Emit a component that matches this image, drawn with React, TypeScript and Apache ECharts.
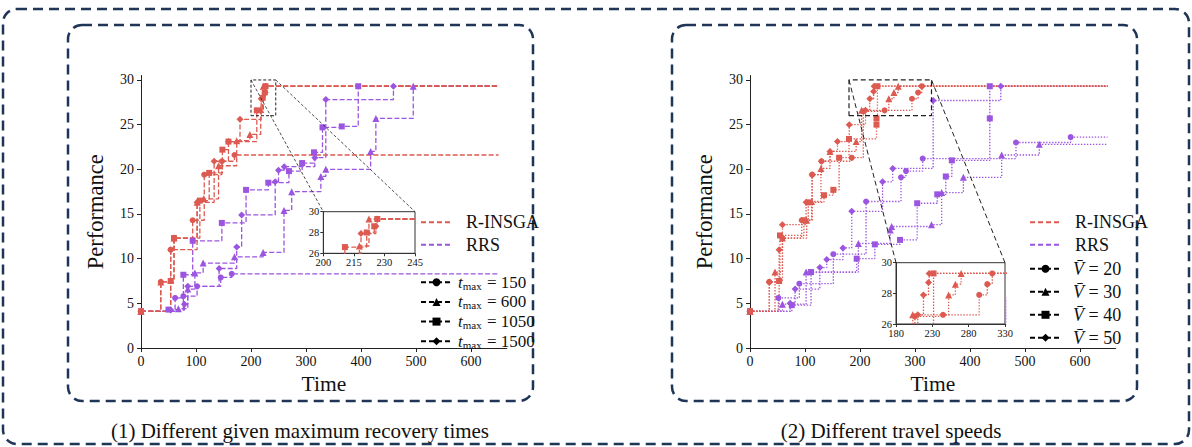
import React, { useEffect, useRef } from "react";
import * as echarts from "echarts";

const FONT = "Liberation Serif";
const RED = "#dc5a50";
const PURPLE = "#9b55e0";
const NAVY = "#1f3558";

const X_TICKS = [0, 100, 200, 300, 400, 500, 600];
const Y_TICKS = [0, 5, 10, 15, 20, 25, 30];
const L_INSET_X_TICKS = [200, 215, 230, 245];
const R_INSET_X_TICKS = [180, 230, 280, 330];
const INSET_Y_TICKS = [26, 28, 30];

// zoom windows [xmin, xmax], [ymin, ymax]
const L_ZOOM_X = [200, 245];
const R_ZOOM_X = [180, 330];
const ZOOM_Y = [26, 30];

// (1) R-INSGA, t_max = 150 / 600 / 1050 / 1500
const L_RED_150 = [[0, 4.1], [36, 7.4], [54, 11.0], [60, 12.3], [94, 14.3], [115, 19.4], [147, 20.9], [170, 21.6], [650, 21.6]];
const L_RED_600 = [[0, 4.1], [36, 7.4], [54, 7.6], [60, 12.3], [102, 16.3], [114, 16.7], [141, 20.4], [174, 23.2], [198, 23.9], [217.7, 26.7], [222.4, 29.3], [650, 29.3]];
const L_RED_1050 = [[0, 4.1], [54, 7.5], [60, 12.3], [107, 16.5], [124, 19.6], [148, 22.2], [159, 23.1], [210.6, 26.6], [221.3, 28.0], [225, 28.6], [226.5, 29.3], [650, 29.3]];
const L_RED_1500 = [[0, 4.1], [54, 11.0], [102, 16.3], [133, 20.9], [159, 23.1], [180, 25.6], [218.5, 27.9], [225.8, 28.6], [226.5, 29.3], [650, 29.3]];
// (1) RRS
const L_PUR_150 = [[0, 4.1], [62, 5.6], [77, 5.8], [102, 6.9], [145, 7.9], [165, 8.3], [650, 8.3]];
const L_PUR_600 = [[0, 4.1], [68, 4.4], [85, 6.6], [98, 8.4], [113, 9.5], [170, 10.2], [222, 10.7], [260, 15.4], [274, 17.5], [327, 19.2], [336, 20.0], [417.5, 22.0], [427, 25.7], [495, 29.3], [650, 29.3]];
const L_PUR_1050 = [[0, 4.1], [50, 4.3], [77, 8.2], [94, 12.0], [147, 14.0], [191, 17.7], [231.5, 18.5], [269, 19.8], [293, 20.7], [314.5, 21.9], [330, 24.7], [365, 24.8], [395, 29.3], [650, 29.3]];
const L_PUR_1500 = [[0, 4.1], [54, 4.25], [79, 4.9], [85, 6.9], [142, 8.9], [174, 11.3], [183, 14.9], [244, 18.6], [250, 19.9], [260.5, 20.3], [316, 21.3], [336, 27.8], [459, 29.3], [650, 29.3]];

// (2) R-INSGA, V = 20 / 30 / 40 / 50
const R_RED_20 = [[0, 4.1], [35, 7.4], [53, 7.5], [59, 12.3], [94, 14.3], [113, 19.4], [130, 20.9], [185, 21.3], [206, 26.5], [244.7, 26.6], [294.5, 27.9], [305.6, 28.6], [312.5, 29.3], [650, 29.3]];
const R_RED_30 = [[0, 4.1], [45.5, 8.5], [59, 12.3], [103, 14.3], [112, 16.4], [129, 20.1], [145.5, 22.0], [193, 23.1], [203, 26.6], [252.4, 27.9], [261.7, 28.6], [269.6, 29.3], [650, 29.3]];
const R_RED_40 = [[0, 4.1], [53, 7.5], [54.5, 12.6], [98, 14.3], [106, 16.3], [134.5, 17.1], [151.5, 17.7], [162, 21.3], [180, 23.4], [230, 25.0], [230, 25.7], [231.7, 29.3], [650, 29.3]];
const R_RED_50 = [[0, 4.1], [35, 7.4], [53, 11.0], [59, 13.8], [102, 16.3], [113, 19.4], [130, 20.9], [145.5, 22.0], [159, 23.1], [180.5, 25.0], [210, 26.6], [217.8, 27.9], [224.7, 28.7], [225.7, 29.3], [650, 29.3]];
// (2) RRS
const R_PUR_20 = [[0, 4.1], [51.5, 5.6], [89.7, 7.2], [151.5, 10.5], [211, 16.4], [274.5, 19.1], [283.6, 19.8], [314, 21.2], [483.6, 23.0], [583, 23.6], [650, 23.6]];
const R_PUR_30 = [[0, 4.1], [59, 4.9], [102, 8.5], [197, 11.7], [255, 13.2], [257.5, 13.6], [330, 13.8], [348.5, 17.4], [388, 19.1], [457.6, 21.6], [526, 22.8], [650, 22.8]];
const R_PUR_40 = [[0, 4.1], [76, 4.8], [111, 8.5], [194, 10.0], [227, 11.6], [272.7, 12.1], [304, 16.2], [340.5, 17.2], [356, 19.2], [367, 21.0], [436, 25.7], [436, 29.3], [650, 29.3]];
const R_PUR_50 = [[0, 4.1], [73, 5.0], [82, 6.6], [127, 9.0], [139.5, 9.9], [169, 11.2], [185, 15.3], [241, 18.6], [259.5, 20.1], [333, 27.7], [456, 29.3], [650, 29.3]];

const SYMBOLS = ["circle", "triangle", "rect", "diamond"];
const LEFT_LEGEND = ["t150", "t600", "t1050", "t1500"];
const LEFT_LEGEND_VALUES = ["150", "600", "1050", "1500"];
const RIGHT_LEGEND = ["V20", "V30", "V40", "V50"];
const RIGHT_LEGEND_VALUES = ["20", "30", "40", "50"];

function stepSeries(id: string, data: number[][], color: string, symbol: string, dash: any, ai: number) {
  return {
    type: "line",
    id,
    name: id,
    xAxisIndex: ai,
    yAxisIndex: ai,
    step: "end",
    data: data.map((p, i) => (i === data.length - 1 ? { value: p, symbol: "none" } : p)),
    symbol,
    symbolSize: symbol === "triangle" ? 7 : symbol === "diamond" ? 7 : 6,
    lineStyle: { color, width: 1.3, type: dash },
    itemStyle: { color },
    clip: true,
    silent: true,
    z: 3,
  };
}

function mainX(gi: number) {
  return {
    type: "value", gridIndex: gi, min: 0, max: 665,
    axisLine: { show: true, lineStyle: { color: "#222", width: 1 } },
    axisTick: { show: true, length: 4, customValues: X_TICKS, lineStyle: { color: "#222" } },
    axisLabel: { customValues: X_TICKS, fontSize: 14, fontFamily: FONT, color: "#111", margin: 6 },
    splitLine: { show: false },
    name: "Time", nameLocation: "middle", nameGap: 23,
    nameTextStyle: { fontSize: 21.5, fontFamily: FONT, color: "#111" },
  };
}
function mainY(gi: number) {
  return {
    type: "value", gridIndex: gi, min: 0, max: 30.5,
    axisLine: { show: true, lineStyle: { color: "#222", width: 1 } },
    axisTick: { show: true, length: 4, customValues: Y_TICKS, lineStyle: { color: "#222" } },
    axisLabel: { customValues: Y_TICKS, fontSize: 14, fontFamily: FONT, color: "#111", margin: 7 },
    splitLine: { show: false },
    name: "Performance", nameLocation: "middle", nameGap: 34,
    nameTextStyle: { fontSize: 22.5, fontFamily: FONT, color: "#111" },
  };
}
function insetX(gi: number, range: number[], ticks: number[]) {
  return {
    type: "value", gridIndex: gi, min: range[0], max: range[1],
    axisLine: { show: true, lineStyle: { color: "#333", width: 1 } },
    axisTick: { show: true, length: 3, customValues: ticks, lineStyle: { color: "#333" } },
    axisLabel: { customValues: ticks, fontSize: 10.5, fontFamily: FONT, color: "#111", margin: 4 },
    splitLine: { show: false },
  };
}
function insetY(gi: number) {
  return {
    type: "value", gridIndex: gi, min: ZOOM_Y[0], max: ZOOM_Y[1],
    axisLine: { show: true, lineStyle: { color: "#333", width: 1 } },
    axisTick: { show: true, length: 3, customValues: INSET_Y_TICKS, lineStyle: { color: "#333" } },
    axisLabel: { customValues: INSET_Y_TICKS, fontSize: 10.5, fontFamily: FONT, color: "#111", margin: 4 },
    splitLine: { show: false },
  };
}

function zoomRect(id: string, xr: number[], ai: number, dash: any, width: number) {
  return {
    type: "line", id, name: id, xAxisIndex: ai, yAxisIndex: ai, symbol: "none", silent: true,
    data: [[xr[0], ZOOM_Y[0]], [xr[1], ZOOM_Y[0]], [xr[1], ZOOM_Y[1]], [xr[0], ZOOM_Y[1]], [xr[0], ZOOM_Y[0]]],
    lineStyle: { color: "#222", width, type: dash }, z: 4, clip: false,
  };
}

const richStyles = {
  n: { fontSize: 17, fontFamily: FONT, color: "#111", lineHeight: 17 },
  n0: { fontSize: 18, fontFamily: FONT, color: "#111", lineHeight: 17, padding: [0, 0, 0, 9] },
  it: { fontSize: 17, fontFamily: FONT, fontStyle: "italic", color: "#111", lineHeight: 17, padding: [0, 0, 0, 1] },
  iv: { fontSize: 18, fontFamily: FONT, fontStyle: "italic", color: "#111", lineHeight: 17, padding: [0, 0, 0, 7] },
  nv: { fontSize: 18, fontFamily: FONT, color: "#111", lineHeight: 17 },
  s: { fontSize: 11, fontFamily: FONT, color: "#111", lineHeight: 12, padding: [7, 1, 0, 0] },
};

function legendFormatter(name: string) {
  const li = LEFT_LEGEND.indexOf(name);
  if (li >= 0) return `{it|t}{s|max}{n| = ${LEFT_LEGEND_VALUES[li]}}`;
  const ri = RIGHT_LEGEND.indexOf(name);
  if (ri >= 0) return `{iv|V\u0304}{nv| = ${RIGHT_LEGEND_VALUES[ri]}}`;
  return `{n0|${name}}`;
}

export default function App() {
  const ref = useRef<HTMLDivElement>(null);
  useEffect(() => {
    document.body.style.margin = "0";
    const chart = echarts.init(ref.current!, undefined, { renderer: "svg" });
    const series: any[] = [];
    const lRed = [L_RED_150, L_RED_600, L_RED_1050, L_RED_1500];
    const lPur = [L_PUR_150, L_PUR_600, L_PUR_1050, L_PUR_1500];
    const rRed = [R_RED_20, R_RED_30, R_RED_40, R_RED_50];
    const rPur = [R_PUR_20, R_PUR_30, R_PUR_40, R_PUR_50];
    const LDASH = [5, 2.2];
    const RDOT = [1.4, 1.6];
    for (const ai of [0, 2]) {
      lPur.forEach((d, k) => series.push(stepSeries(`lp${k}_${ai}`, d, PURPLE, SYMBOLS[k], LDASH, ai)));
      lRed.forEach((d, k) => series.push(stepSeries(`lr${k}_${ai}`, d, RED, SYMBOLS[k], LDASH, ai)));
    }
    for (const ai of [1, 3]) {
      rPur.forEach((d, k) => series.push(stepSeries(`rp${k}_${ai}`, d, PURPLE, SYMBOLS[k], RDOT, ai)));
      rRed.forEach((d, k) => series.push(stepSeries(`rr${k}_${ai}`, d, RED, SYMBOLS[k], RDOT, ai)));
    }
    series.push(zoomRect("lzoom", L_ZOOM_X, 0, [3, 2], 1));
    series.push(zoomRect("rzoom", R_ZOOM_X, 1, [5, 3], 1.2));
    // legend carriers
    const dummy = (name: string, color: string, symbol: string) => ({
      type: "line", name, xAxisIndex: 0, yAxisIndex: 0, data: [], symbol, symbolSize: 8,
      lineStyle: { color, width: 1.6, type: [5, 3] }, itemStyle: { color },
    });
    series.push(dummy("R-INSGA", RED, "circle"));
    series.push(dummy("RRS", PURPLE, "circle"));
    LEFT_LEGEND.forEach((n, k) => series.push(dummy(n, "#000", SYMBOLS[k])));
    RIGHT_LEGEND.forEach((n, k) => series.push(dummy(n, "#000", SYMBOLS[k])));

    const legendBase = {
      orient: "vertical", selectedMode: false, itemWidth: 31, itemHeight: 10,
      formatter: legendFormatter, textStyle: { rich: richStyles },
      padding: 0,
    };
    const methodItems = [
      { name: "R-INSGA", itemStyle: { opacity: 0 } },
      { name: "RRS", itemStyle: { opacity: 0 } },
    ];

    chart.setOption({
      animation: false,
      grid: [
        { left: 141, top: 75.5, width: 365.75, height: 272.5 },
        { left: 750, top: 75.5, width: 365.75, height: 272.5 },
        { left: 323.3, top: 211.7, width: 91.7, height: 41.6, show: true, borderColor: "#333", borderWidth: 1 },
        { left: 896, top: 262.7, width: 109, height: 61.3, show: true, borderColor: "#333", borderWidth: 1 },
      ],
      xAxis: [mainX(0), mainX(1), insetX(2, L_ZOOM_X, L_INSET_X_TICKS), insetX(3, R_ZOOM_X, R_INSET_X_TICKS)],
      yAxis: [mainY(0), mainY(1), insetY(2), insetY(3)],
      legend: [
        { ...legendBase, data: methodItems, left: 420, top: 213.2, itemGap: 4.5 },
        { ...legendBase, data: LEFT_LEGEND, left: 420, top: 273.2, itemGap: 1.7 },
        { ...legendBase, data: methodItems, left: 1029, top: 213.2, itemGap: 4.5 },
        { ...legendBase, data: RIGHT_LEGEND, left: 1029, top: 259.8, itemGap: 5 },
      ],
      series,
    });

    const pix = (ai: number, p: number[]) => chart.convertToPixel({ xAxisIndex: ai, yAxisIndex: ai }, p) as number[];
    const conn = (ai: number, ii: number, xr: number[], dash: number[], w: number) =>
      [0, 1].map((k) => {
        const a = pix(ai, [xr[k], ZOOM_Y[1]]);
        const b = pix(ii, [xr[k], ZOOM_Y[1]]);
        return { type: "line", shape: { x1: a[0], y1: a[1], x2: b[0], y2: b[1] }, style: { stroke: "#222", lineWidth: w, lineDash: dash }, silent: true, z: 4 };
      });

    chart.setOption({
      graphic: [
        { type: "rect", shape: { x: 3, y: 9, width: 1186, height: 435, r: 14 }, style: { fill: "none", stroke: NAVY, lineWidth: 2.5, lineDash: [10, 6] }, silent: true },
        { type: "rect", shape: { x: 68, y: 25, width: 465, height: 376, r: 14 }, style: { fill: "none", stroke: NAVY, lineWidth: 2.5, lineDash: [10, 6] }, silent: true },
        { type: "rect", shape: { x: 672, y: 25, width: 465, height: 376, r: 14 }, style: { fill: "none", stroke: NAVY, lineWidth: 2.5, lineDash: [10, 6] }, silent: true },
        { type: "text", x: 300, y: 431, style: { text: "(1) Different given maximum recovery times", font: `21px ${FONT}`, fill: "#111", textAlign: "center", textVerticalAlign: "middle" }, silent: true },
        { type: "text", x: 891, y: 431, style: { text: "(2) Different travel speeds", font: `21px ${FONT}`, fill: "#111", textAlign: "center", textVerticalAlign: "middle" }, silent: true },
        ...conn(0, 2, L_ZOOM_X, [3, 2], 0.8),
        ...conn(1, 3, R_ZOOM_X, [5, 3], 1),
      ],
    });
    return () => chart.dispose();
  }, []);
  return <div ref={ref} style={{ width: 1192, height: 447 }} />;
}
